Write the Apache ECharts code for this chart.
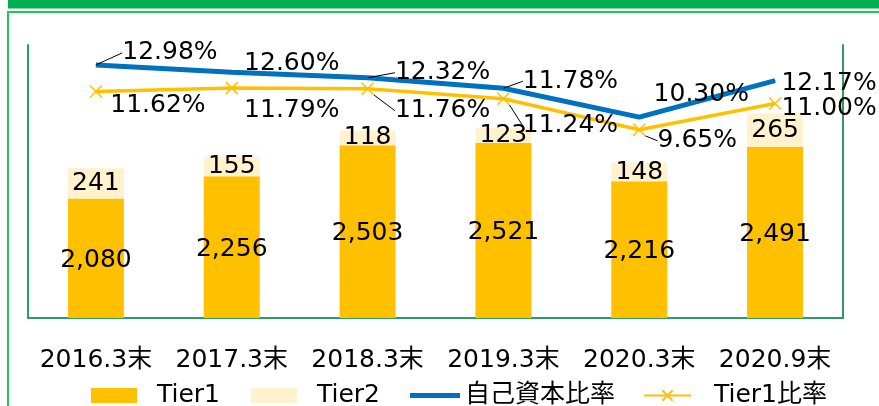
<!DOCTYPE html>
<html>
<head>
<meta charset="utf-8">
<script src="https://cdn.jsdelivr.net/npm/echarts@6/dist/echarts.min.js"></script>
<style>
  html, body { margin: 0; padding: 0; background: #fff; }
  #chart { width: 879px; height: 406px; }
</style>
</head>
<body>
<div id="chart"></div>
<script>
var categories = ['2016.3末', '2017.3末', '2018.3末', '2019.3末', '2020.3末', '2020.9末'];
var tier1 = [2080, 2256, 2503, 2521, 2216, 2491];
var tier2 = [241, 155, 118, 123, 148, 265];
var capitalRatio = [12.98, 12.60, 12.32, 11.78, 10.30, 12.17];
var tier1Ratio = [11.62, 11.79, 11.76, 11.24, 9.65, 11.00];

// label placement (offset from the point) and which labels get a leader line
var capitalLabelOffset = [[74, -12], [60, -9], [75, -5], [67, -7], [62, -23], [54, 3]];
var capitalLeader = [true, false, true, true, false, false];
var tier1LabelOffset = [[62, 14], [60, 22], [75, 22], [67, 27], [58, 11], [54, 5]];
var tier1Leader = [false, false, true, true, true, false];

var FONT = "'DejaVu Sans', 'Noto Sans CJK JP', sans-serif";
var FS = 25;
var BORDER = '#2E9B62';

function comma(v) {
  return String(v).replace(/\B(?=(\d{3})+(?!\d))/g, ',');
}

function ratioData(values, leaders) {
  return values.map(function (v, i) {
    return { value: v, labelLine: { show: leaders[i] } };
  });
}

function moveLabel(offsets) {
  return function (params) {
    var o = offsets[params.dataIndex];
    return { dx: o[0], dy: o[1] };
  };
}

var chart = echarts.init(document.getElementById('chart'));

function legendText(padLeft) {
  return { fontFamily: FONT, fontSize: FS, color: '#000', padding: [0, 0, 0, padLeft] };
}

chart.setOption({
  animation: false,
  textStyle: { fontFamily: FONT },
  graphic: [
    { type: 'rect', shape: { x: 8, y: 0, width: 880, height: 8.5 }, style: { fill: '#00B050' } },
    { type: 'rect', shape: { x: 8, y: 12, width: 900, height: 500 }, style: { fill: 'none', stroke: '#22C45E', lineWidth: 2 } }
  ],
  grid: { left: 28, right: 36, top: 45, bottom: 88 },
  legend: [
    {
      top: 378, left: 86, icon: 'rect', itemWidth: 46, itemHeight: 15,
      data: ['Tier1'], textStyle: legendText(15)
    },
    {
      top: 378, left: 246, icon: 'rect', itemWidth: 46, itemHeight: 15,
      data: ['Tier2'], textStyle: legendText(15)
    },
    {
      top: 378, left: 405, itemWidth: 50, itemHeight: 5,
      data: [{ name: '自己資本比率', icon: 'path://M0,0L50,0L50,5L0,5Z' }],
      textStyle: legendText(0)
    },
    {
      top: 378, left: 638, itemWidth: 47, itemHeight: 13,
      data: ['Tier1比率'], textStyle: legendText(18)
    }
  ],
  xAxis: {
    type: 'category',
    data: categories,
    axisLine: { show: true, lineStyle: { color: BORDER, width: 2 } },
    axisTick: { show: false },
    axisLabel: { interval: 0, margin: 30, color: '#000', fontSize: FS, fontFamily: FONT }
  },
  yAxis: [
    {
      type: 'value',
      min: 1130,
      max: 3300,
      axisLine: { show: true, lineStyle: { color: BORDER, width: 2 } },
      axisTick: { show: false },
      axisLabel: { show: false },
      splitLine: { show: false }
    },
    {
      type: 'value',
      position: 'right',
      min: 0,
      max: 14,
      axisLine: { show: true, lineStyle: { color: BORDER, width: 2 } },
      axisTick: { show: false },
      axisLabel: { show: false },
      splitLine: { show: false }
    }
  ],
  series: [
    {
      name: 'Tier1',
      type: 'bar',
      stack: 'capital',
      barWidth: 56,
      data: tier1,
      itemStyle: { color: '#FFC000' },
      label: {
        show: true,
        position: 'inside',
        color: '#000',
        fontSize: FS,
        fontFamily: FONT,
        offset: [0, 2],
        formatter: function (p) { return comma(p.value); }
      }
    },
    {
      name: 'Tier2',
      type: 'bar',
      stack: 'capital',
      barWidth: 56,
      data: tier2,
      itemStyle: { color: '#FFF2CC' },
      label: {
        show: true,
        position: 'inside',
        color: '#000',
        fontSize: FS,
        fontFamily: FONT,
        formatter: function (p) { return comma(p.value); }
      }
    },
    {
      name: '自己資本比率',
      type: 'line',
      yAxisIndex: 1,
      data: ratioData(capitalRatio, capitalLeader),
      symbol: 'circle',
      symbolSize: 1,
      lineStyle: { color: '#0070C0', width: 5 },
      itemStyle: { color: '#0070C0' },
      label: {
        show: true,
        position: 'inside',
        color: '#000',
        fontSize: FS,
        fontFamily: FONT,
        formatter: function (p) { return p.value.toFixed(2) + '%'; }
      },
      labelLayout: moveLabel(capitalLabelOffset),
      labelLine: { lineStyle: { color: '#000', width: 1 } },
      z: 3
    },
    {
      name: 'Tier1比率',
      type: 'line',
      yAxisIndex: 1,
      data: ratioData(tier1Ratio, tier1Leader),
      symbol: 'path://M0,0L10,10M10,0L0,10',
      symbolSize: 12,
      lineStyle: { color: '#FFC000', width: 3.5 },
      itemStyle: { color: '#FFC000', borderColor: '#FFC000', borderWidth: 1.5 },
      label: {
        show: true,
        position: 'inside',
        color: '#000',
        fontSize: FS,
        fontFamily: FONT,
        formatter: function (p) { return p.value.toFixed(2) + '%'; }
      },
      labelLayout: moveLabel(tier1LabelOffset),
      labelLine: { lineStyle: { color: '#000', width: 1 } },
      z: 3
    }
  ]
});
</script>
</body>
</html>
